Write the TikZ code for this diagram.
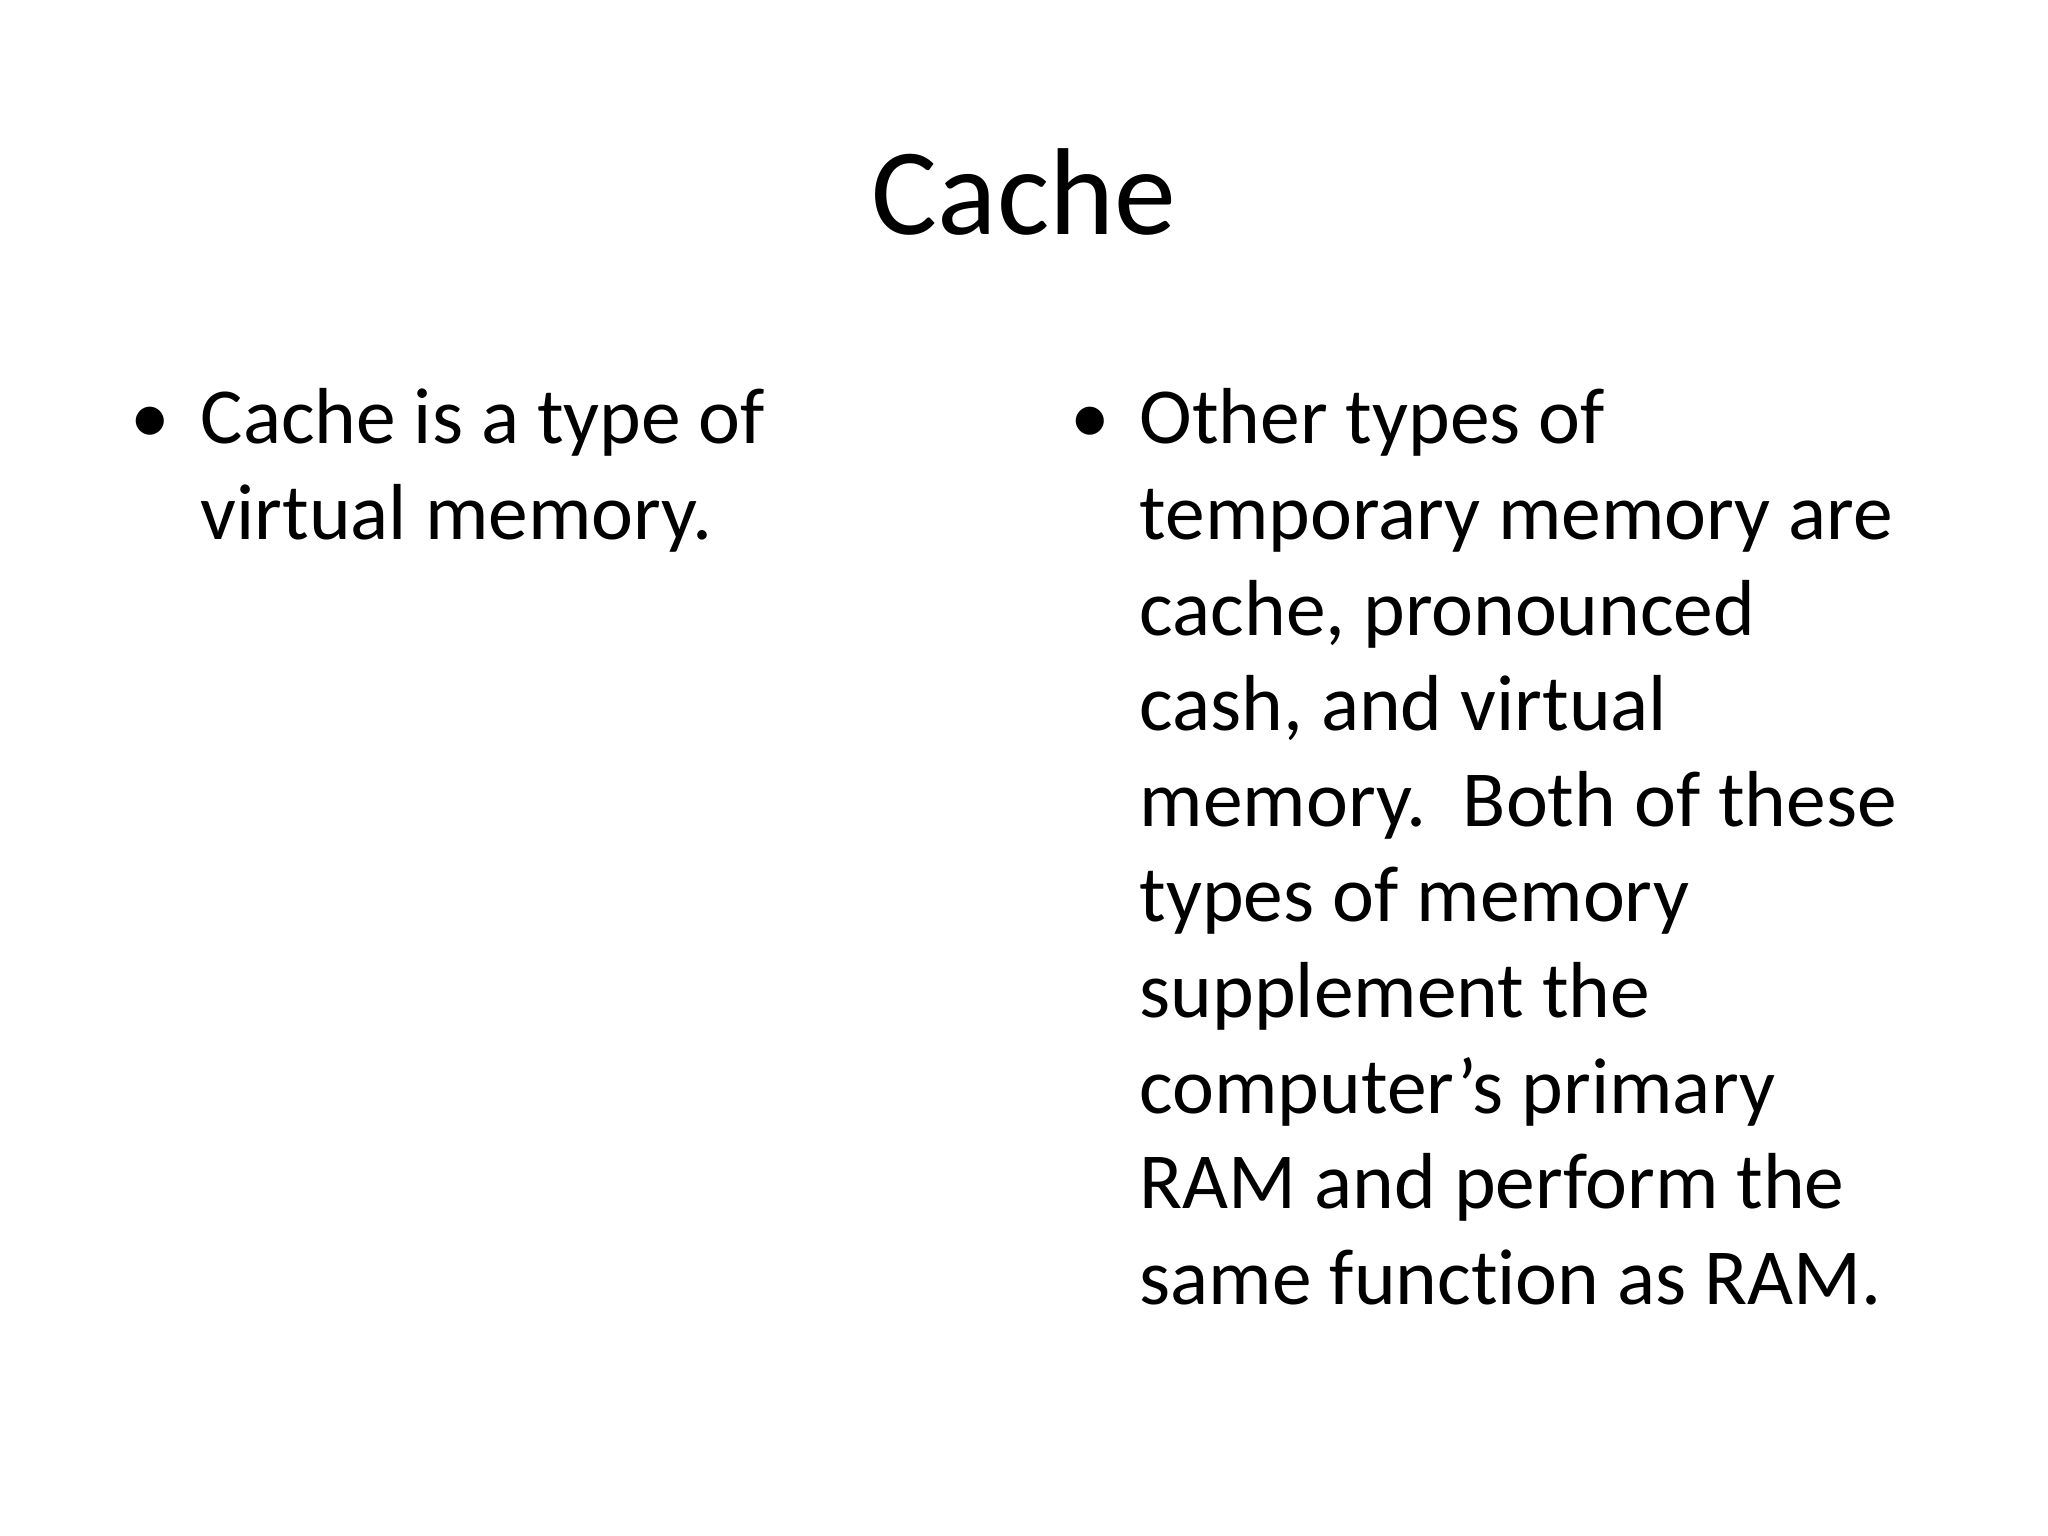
\documentclass[tikz,border=0pt]{standalone}
\usepackage{fontspec}
\setmainfont{Carlito}[Ligatures={NoCommon,TeX}]
\begin{document}
\begin{tikzpicture}[x=1cm,y=1cm,
  body/.style={anchor=base west,inner sep=0pt,font=\fontsize{22.6pt}{27pt}\selectfont}]
\useasboundingbox[fill=white] (0,0) rectangle (20.48,-15.36);
\node[anchor=base,inner sep=0pt,font=\fontsize{35.2pt}{40pt}\selectfont] (title) at (10.24,-2.35) {Cache};
\node[body] (b1) at (1.30,-4.44) {•};
\foreach \t [count=\i from 0] in {Cache is a type of,virtual memory.}
  \node[body] (l\i) at (2.0,-4.44-0.956*\i) {\t};
\node[body] (b2) at (10.70,-4.44) {•};
\foreach \t [count=\i from 0] in {Other types of,temporary memory are,{cache, pronounced},{cash, and virtual},memory.\ \ Both of these,types of memory,supplement the,computer\char"0027 s primary,RAM and perform the,same function as RAM.}
  \node[body] (r\i) at (11.39,-4.44-0.956*\i) {\t};
\end{tikzpicture}
\end{document}
